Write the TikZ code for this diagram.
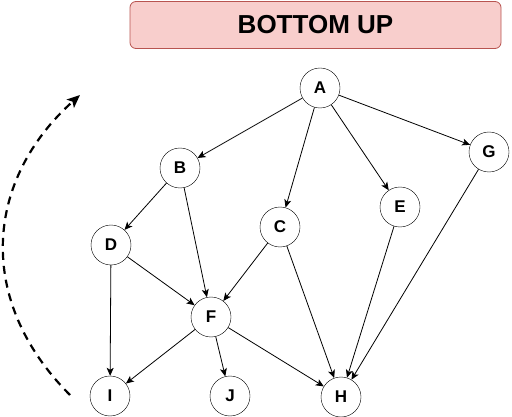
\documentclass[tikz,border=0pt]{standalone}
\usepackage{fontspec}
\setmainfont{Liberation Sans}
\usetikzlibrary{arrows.meta}
\definecolor{titlefill}{HTML}{F8CECC}
\definecolor{titledraw}{HTML}{B85450}
\tikzset{
	vertex/.style={draw, circle, fill=white, minimum size=40pt, inner sep=0pt, font=\fontsize{17}{17}\selectfont\bfseries},
	edge/.style={-{Stealth[length=8pt, width=7pt, inset=2pt]}, line width=0.8pt}
}
\begin{document}
\begin{tikzpicture}[x=1pt, y=-1pt]
				\useasboundingbox (0,0) rectangle (512,417);
				\node[draw=titledraw, fill=titlefill, rounded corners=6pt, line width=0.8pt, minimum width=371pt, minimum height=47pt, font=\fontsize{26}{26}\selectfont\bfseries] (title) at (315.5,25) {BOTTOM UP};

				\node[vertex] (A) at (320,88) {A};
				\node[vertex] (B) at (180,168) {B};
				\node[vertex] (C) at (280,227) {C};
				\node[vertex] (D) at (111,245) {D};
				\node[vertex] (E) at (400,207) {E};
				\node[vertex] (G) at (489,152) {G};
				\node[vertex] (F) at (211,317) {F};
				\node[vertex] (I) at (110,396) {I};
				\node[vertex] (J) at (230,396) {J};
				\node[vertex] (H) at (341,397) {H};

				\foreach \u/\v in {A/B, A/C, A/E, A/G, B/D, B/F, C/F, C/H, D/F, D/I, F/I, F/J, F/H, E/H, G/H}
					\draw[edge] (\u) -- (\v);

				% direction of traversal
				\coordinate (start) at (70,395);
				\coordinate (stop) at (80,95);
				\draw[line width=2.2pt, dash pattern=on 8pt off 6pt, -{Stealth[length=13pt, width=11pt, inset=3pt]}] (start) .. controls (-25,300) and (-15,180) .. (stop);
			\end{tikzpicture}
\end{document}
